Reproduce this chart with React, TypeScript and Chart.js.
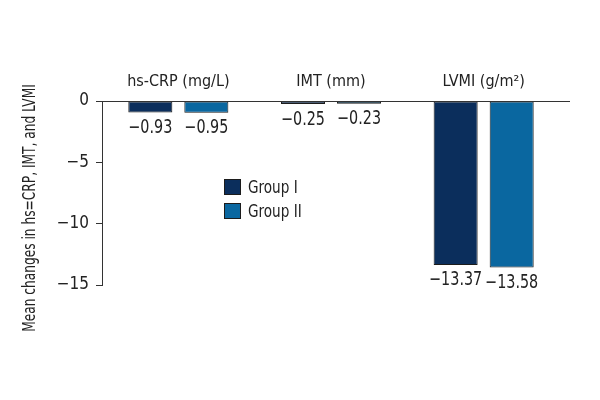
import React, { useEffect, useRef } from "react";
import { Chart, registerables } from "chart.js";

Chart.register(...registerables);

const categories = ["hs-CRP (mg/L)", "IMT (mm)", "LVMI (g/m²)"];
const seriesNames = ["Group I", "Group II"];
const groupI = [-0.93, -0.25, -13.37];
const groupII = [-0.95, -0.23, -13.58];
const yMin = -15;
const yMax = 0;
const yStep = 5;
const yTitle = "Mean changes in hs=CRP, IMT, and LVMI";

const COLORS = ["#0b2e5c", "#0a67a0"];
const BORDER = "#1c1c1c";
const TEXT = "#222222";
const FONT = '"Liberation Sans Narrow", "DejaVu Sans Condensed", "Arial Narrow", sans-serif';
const SQUEEZE = 0.84;

const fmt = (v: number) => (v < 0 ? "\u2212" + Math.abs(v).toString() : v.toString());

function squeezedText(ctx: any, text: string, x: number, y: number, sx: number) {
  ctx.save();
  ctx.translate(x, y);
  ctx.scale(sx, 1);
  ctx.fillText(text, 0, 0);
  ctx.restore();
}

const customPlugin = {
  id: "custom",
  afterDatasetsDraw(chart: any) {
    const ctx = chart.ctx;
    const { left, right } = chart.chartArea;
    const yScale = chart.scales.y;
    const y0 = Math.round(yScale.getPixelForValue(0)) + 0.5;
    ctx.save();
    // zero line
    ctx.strokeStyle = "#333";
    ctx.lineWidth = 1;
    ctx.beginPath();
    ctx.moveTo(left, y0);
    ctx.lineTo(right + 10, y0);
    ctx.stroke();

    // value labels
    ctx.fillStyle = TEXT;
    ctx.font = `19px ${FONT}`;
    ctx.textAlign = "center";
    ctx.textBaseline = "top";
    chart.data.datasets.forEach((ds: any, di: number) => {
      const meta = chart.getDatasetMeta(di);
      meta.data.forEach((bar: any, i: number) => {
        const v = ds.data[i];
        squeezedText(ctx, fmt(v), bar.x, bar.y + 6, SQUEEZE);
      });
    });

    // legend
    const lx = 224;
    const ly = [187, 211];
    ctx.textAlign = "left";
    ctx.textBaseline = "middle";
    ctx.font = `18px ${FONT}`;
    seriesNames.forEach((name, i) => {
      ctx.fillStyle = COLORS[i];
      ctx.fillRect(lx, ly[i] - 8, 17, 16);
      ctx.strokeStyle = BORDER;
      ctx.strokeRect(lx + 0.5, ly[i] - 8 + 0.5, 16, 15);
      ctx.fillStyle = TEXT;
      squeezedText(ctx, name, lx + 24, ly[i] + 1, SQUEEZE);
    });

    // y title
    ctx.save();
    ctx.translate(31, 208);
    ctx.rotate(-Math.PI / 2);
    ctx.scale(SQUEEZE * 0.95, 1);
    ctx.textAlign = "center";
    ctx.textBaseline = "middle";
    ctx.font = `17px ${FONT}`;
    ctx.fillStyle = TEXT;
    ctx.fillText(yTitle, 0, 0);
    ctx.restore();

    ctx.restore();
  },
};

export default function App() {
  const ref = useRef<HTMLCanvasElement | null>(null);
  useEffect(() => {
    document.body.style.margin = "0";
    const chart = new Chart(ref.current as HTMLCanvasElement, {
      type: "bar",
      data: {
        labels: categories,
        datasets: [
          {
            label: seriesNames[0],
            data: groupI,
            backgroundColor: COLORS[0],
            borderColor: BORDER,
            borderWidth: 1,
            borderSkipped: false,
          },
          {
            label: seriesNames[1],
            data: groupII,
            backgroundColor: COLORS[1],
            borderColor: BORDER,
            borderWidth: 1,
            borderSkipped: false,
          },
        ],
      },
      options: {
        animation: false,
        responsive: true,
        maintainAspectRatio: false,
        layout: { padding: { left: 0, top: 0, right: 40, bottom: 115 } },
        datasets: { bar: { categoryPercentage: 0.734, barPercentage: 0.786 } } as any,
        plugins: { legend: { display: false }, tooltip: { enabled: false } },
        scales: {
          x: {
            type: "category",
            position: "top",
            grid: { display: false, drawTicks: false },
            border: { display: false },
            ticks: {
              color: TEXT,
              font: { family: FONT, size: 16 },
              padding: 10,
              maxRotation: 0,
            },
            afterFit(scale: any) {
              scale.height = 101;
            },
          },
          y: {
            min: yMin,
            max: yMax,
            grid: {
              display: true,
              drawOnChartArea: false,
              drawTicks: true,
              tickLength: 6,
              color: "#333",
            },
            border: { display: true, color: "#333", width: 1 },
            ticks: {
              stepSize: yStep,
              color: TEXT,
              font: { family: FONT, size: 17 },
              padding: 7,
              callback: (v: any) => fmt(Number(v)),
            },
            afterFit(scale: any) {
              scale.width = 102;
            },
          },
        },
      },
      plugins: [customPlugin],
    });
    return () => chart.destroy();
  }, []);
  return (
    <div style={{ position: "fixed", left: 0, top: 0, width: 600, height: 400, background: "#fff" }}>
      <canvas ref={ref} />
    </div>
  );
}
